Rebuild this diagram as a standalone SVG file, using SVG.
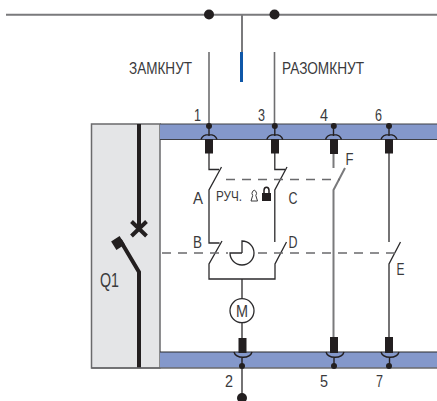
<svg xmlns="http://www.w3.org/2000/svg" width="437" height="401" viewBox="0 0 437 401">
<style>
text{font-family:"Liberation Sans",Arial,sans-serif;font-size:16.500px;fill:#3a3a3c}
.w{fill:none;stroke:#6e6e70;stroke-width:1.6}
.k{fill:none;stroke:#2b2a2c;stroke-width:1.3}
.g{fill:none;stroke:#7a7a7c;stroke-width:2}
.d{fill:none;stroke:#6a6a6c;stroke-width:1.4;stroke-dasharray:9 7}
.b{fill:#231f20}
.arc{fill:none;stroke:#231f20;stroke-width:1.4}
</style>
<g id="connectors">
<path class="g" d="M6 14.700H437M242 15V52"/>
<path d="M241.500 52V82" fill="none" stroke="#0f57a8" stroke-width="3"/>
<path class="w" d="M209 52V126M274.500 52V126"/>
<path class="k" d="M209 153V169.500H219M221.500 167L209 190V243H219.500M222 241L209 264V279H275V264L286.500 242"/>
<path class="k" d="M274.800 153V169.500H285M287 167L274.800 190V242M242 279V298.500M242 323V338M242 360V398"/>
<path class="g" d="M333.500 154V168M345 168L333.500 190V338"/>
<path class="k" d="M389 153V242M400.500 242L389 264V338"/>
<path class="d" d="M226 179.500H340"/>
<path class="d" d="M130 253H228M258 253H396"/>
</g>
<g id="panel-Q1">
<rect x="91.500" y="124" width="68.500" height="244" fill="#e4e5e7" stroke="#6a6a6c" stroke-width="1.500"/>
<path d="M139 124V226M139 368V272L120 240" fill="none" stroke="#231f20" stroke-width="4"/>
<path d="M131.500 221.500L146.500 236M146.500 221.500L131.500 236" fill="none" stroke="#231f20" stroke-width="4"/>
<rect x="113" y="238" width="10" height="10" class="b" transform="rotate(-32 118 243)"/>
<text x="100" y="287" style="font-size:20px" textLength="19" lengthAdjust="spacingAndGlyphs">Q1</text>
</g>
<g id="bus-top">
<rect x="160" y="124" width="277" height="15.500" fill="#8498cb"/>
<path d="M160 124H437M160 139.500H437" stroke="#3f4045" stroke-width="1.200" fill="none"/>
</g>
<g id="bus-bottom">
<rect x="160" y="352" width="277" height="16" fill="#8498cb"/>
<path d="M160 352H437" stroke="#2b2a2c" stroke-width="1.200" fill="none"/>
<path d="M91.500 368H437" stroke="#6a6a6c" stroke-width="1.500" fill="none"/>
</g>
<g id="terminals-top">
<path class="arc" d="M201 139.500C203 133 215 133 217 139.500M209 126V136M266.800 139.500C268.800 133 280.800 133 282.800 139.500M274.800 126V136M325.500 139.500C327.500 133 339.500 133 341.500 139.500M333.500 126V136M381 139.500C383 133 395 133 397 139.500M389 126V136"/>
<circle class="b" cx="209" cy="126" r="3"/><circle class="b" cx="274.800" cy="126" r="3"/><circle class="b" cx="333.800" cy="126" r="3"/><circle class="b" cx="389" cy="126" r="3"/>
<rect class="b" x="205" y="139" width="8" height="14.500"/><rect class="b" x="271" y="139" width="8" height="14.500"/><rect class="b" x="330" y="139" width="8" height="15"/><rect class="b" x="385" y="139" width="8" height="14.500"/>
</g>
<g id="terminals-bottom">
<path class="arc" d="M234 352C236 359 250 359 252 352M242 358V366M326 352C328 359 342 359 344 352M334 358V366M381 352C383 359 397 359 399 352M389.500 358V366"/>
<rect class="b" x="238.500" y="338" width="8" height="15"/><rect class="b" x="330" y="337" width="8" height="16"/><rect class="b" x="385" y="337" width="8" height="16"/>
<circle class="b" cx="242" cy="366" r="3"/><circle class="b" cx="334" cy="366" r="3"/><circle class="b" cx="389" cy="366" r="3"/>
<circle class="b" cx="242" cy="398" r="5"/>
</g>
<g id="junctions"><circle class="b" cx="209" cy="14.500" r="5"/><circle class="b" cx="274.500" cy="14.500" r="5"/></g>
<g id="motor"><circle cx="242" cy="310.700" r="12" fill="#fff" stroke="#2b2a2c" stroke-width="1.300"/><text x="236" y="316.500" textLength="12" lengthAdjust="spacingAndGlyphs">M</text></g>
<g id="timer"><path class="k" d="M242 253V241A12 12 0 1 1 230 253H242" fill="none"/></g>
<g id="locks">
<path d="M251 201H257.500L255.800 195.500A2.200 3 0 1 0 252.700 195.500Z" fill="none" stroke="#3a3a3c" stroke-width="1"/>
<rect class="b" x="262" y="193" width="9" height="8"/><path d="M264 194V190.500C264 186 269 186 269 190.500V194" fill="none" stroke="#231f20" stroke-width="1.500"/>
</g>
<g id="labels">
<text x="129" y="74" textLength="63" lengthAdjust="spacingAndGlyphs">ЗАМКНУТ</text>
<text x="282" y="74" textLength="82" lengthAdjust="spacingAndGlyphs">РАЗОМКНУТ</text>
<text x="194" y="120.500" textLength="7" lengthAdjust="spacingAndGlyphs">1</text>
<text x="258" y="120.500" textLength="7" lengthAdjust="spacingAndGlyphs">3</text>
<text x="320" y="120.500" textLength="8" lengthAdjust="spacingAndGlyphs">4</text>
<text x="375" y="120.500" textLength="7" lengthAdjust="spacingAndGlyphs">6</text>
<text x="193" y="203.500" textLength="10" lengthAdjust="spacingAndGlyphs">A</text>
<text x="216" y="201" style="font-size:14px" textLength="26" lengthAdjust="spacingAndGlyphs">РУЧ.</text>
<text x="288.500" y="203.500" textLength="9" lengthAdjust="spacingAndGlyphs">C</text>
<text x="345.500" y="165" textLength="8" lengthAdjust="spacingAndGlyphs">F</text>
<text x="193" y="247.500" textLength="9" lengthAdjust="spacingAndGlyphs">B</text>
<text x="288.500" y="247.500" textLength="9" lengthAdjust="spacingAndGlyphs">D</text>
<text x="396.500" y="274.500" textLength="8" lengthAdjust="spacingAndGlyphs">E</text>
<text x="225" y="386.500" textLength="8" lengthAdjust="spacingAndGlyphs">2</text>
<text x="320" y="386.500" textLength="8" lengthAdjust="spacingAndGlyphs">5</text>
<text x="376" y="386.500" textLength="7" lengthAdjust="spacingAndGlyphs">7</text>
</g>
</svg>
